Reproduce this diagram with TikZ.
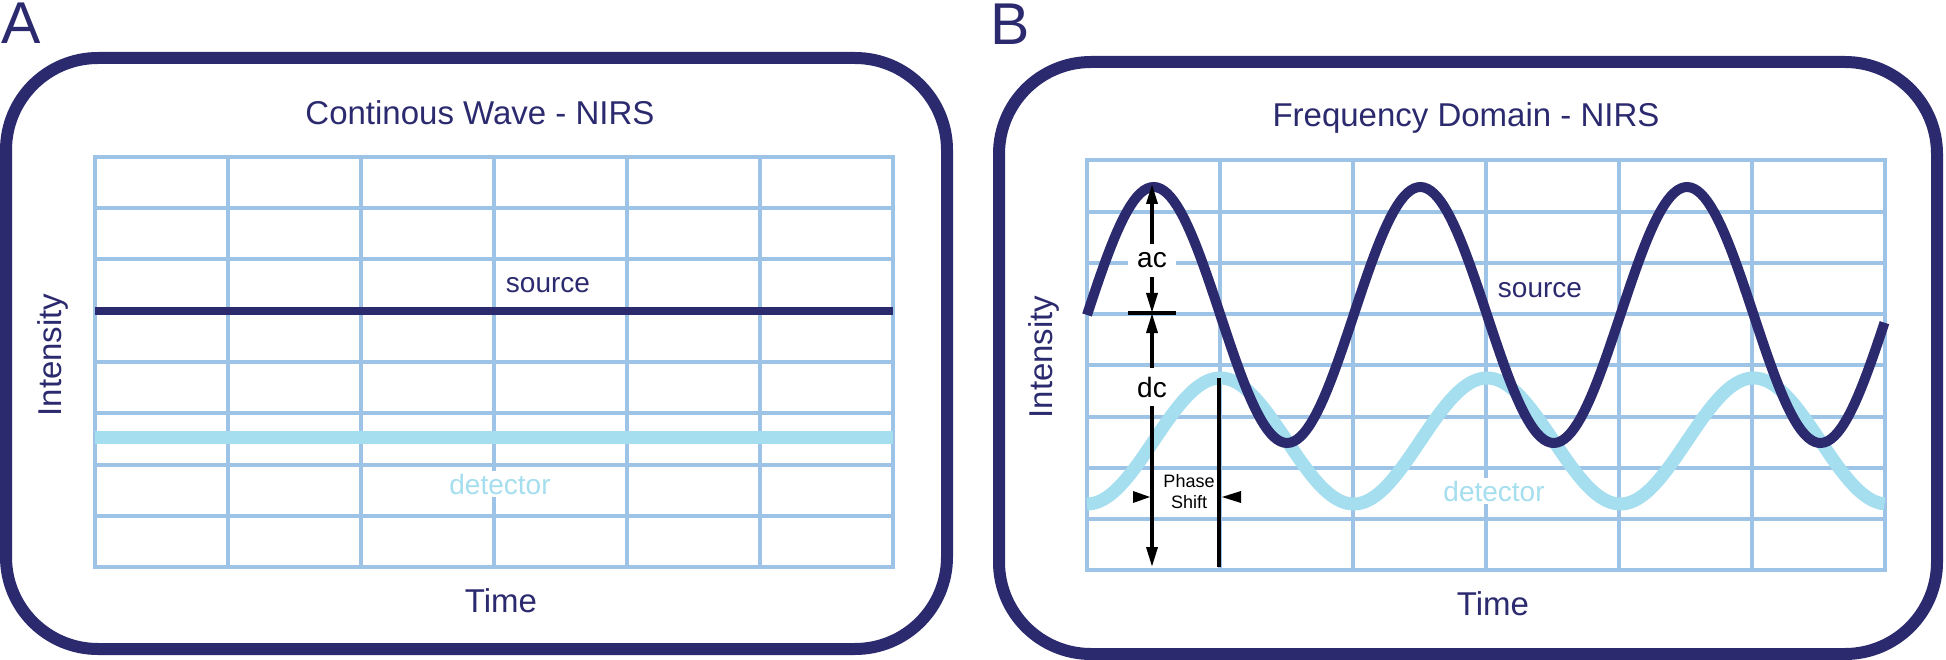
\documentclass[tikz,border=0pt]{standalone}
\usepackage{fontspec}
\setmainfont{Liberation Sans}
\usetikzlibrary{arrows.meta}
\definecolor{navy}{HTML}{2C2A6E}
\definecolor{gridblue}{HTML}{9DC3E6}
\definecolor{detcyan}{HTML}{A5DEEE}
\tikzset{
  panel/.style={draw=navy, line width=12pt, rounded corners=92pt},
  gridl/.style={draw=gridblue, line width=4pt},
  srcline/.style={draw=navy, line width=9pt},
  detline/.style={draw=detcyan, line width=13pt},
  bigtxt/.style={font=\fontsize{33}{40}\selectfont, text=navy, inner sep=0pt},
  midtxt/.style={font=\fontsize{28}{34}\selectfont, inner sep=0pt},
  paneltag/.style={font=\fontsize{59}{66}\selectfont, text=navy, inner sep=0pt, anchor=base west},
  whitebg/.style={fill=white, inner xsep=6pt, inner ysep=3pt},
  arr/.style={-{Triangle[length=20pt,width=11pt]}, line width=3.5pt, draw=black},
  blk/.style={draw=black, line width=3.5pt},
}
\begin{document}
\begin{tikzpicture}[x=1pt,y=-1pt]
\useasboundingbox (0,0) rectangle (1946,660);

% ---------------- Panel A ----------------
\node[paneltag] (tagA) at (1,44) {A};
\draw[panel] (6,58) rectangle (947,649);
\node[bigtxt, anchor=base] (titA) at (480,125) {Continous Wave - NIRS};
\foreach \i in {1,...,5} \draw[gridl] ({95+133*\i},157) -- ({95+133*\i},567);
\foreach \j in {1,...,7} \draw[gridl] (95,{157+51.25*\j}) -- (893,{157+51.25*\j});
\draw[gridl] (95,157) rectangle (893,567);
\node[midtxt, text=navy, anchor=base] (srcA) at (548,293) {source};
\node[midtxt, text=detcyan, anchor=base, whitebg] (detA) at (500,494) {detector};
\draw[srcline, line width=8pt] (95,311) -- (893,311);
\draw[detline] (95,437) -- (893,437);
\node[bigtxt, anchor=base] (timeA) at (501,612) {Time};
\node[bigtxt, anchor=base, rotate=90] (intA) at (61,355) {Intensity};

% ---------------- Panel B ----------------
\node[paneltag] (tagB) at (990,45) {B};
\draw[panel] (999,62) rectangle (1937,654);
\node[bigtxt, anchor=base] (titB) at (1466,127) {Frequency Domain - NIRS};
\foreach \i in {1,...,5} \draw[gridl] ({1087+133*\i},160.5) -- ({1087+133*\i},570);
\foreach \j in {1,...,7} \draw[gridl] (1087,{160.5+51.2*\j}) -- (1885,{160.5+51.2*\j});
\draw[gridl] (1087,160.5) rectangle (1885,570);
\node[midtxt, text=navy, anchor=base] (srcB) at (1540,298) {source};
\node[midtxt, text=detcyan, anchor=base, whitebg] (detB) at (1494,501) {detector};
\node[midtxt, text=black, anchor=base, fill=white, inner xsep=9pt, inner ysep=9pt] (ac) at (1152,268) {ac};
\node[midtxt, text=black, anchor=base, inner xsep=9pt, inner ysep=9pt] (dc) at (1152,397) {dc};
\node[font=\fontsize{18}{21}\selectfont, align=center, inner sep=0pt, anchor=north] (ps) at (1189,474) {Phase\\Shift};

\draw[detline] plot[domain=0:2.9925, samples=240] ({1087+266.67*\x}, {441+63*cos(360*\x)});
\draw[srcline, line width=10pt] plot[domain=0:2.9925, samples=240] ({1087+266.67*\x}, {315-128*sin(360*\x)});
\node[bigtxt, anchor=base] (timeB) at (1493,615) {Time};
\node[bigtxt, anchor=base, rotate=90] (intB) at (1052,357) {Intensity};

% annotations
\coordinate (pk) at (1152,184);
\coordinate (mid) at (1152,313);
\coordinate (bot) at (1152,567);
\coordinate (tickL) at (1128,313);
\coordinate (tickR) at (1176,313);
\coordinate (psTop) at (1219,378);
\coordinate (psBot) at (1219,567);
\draw[arr] (ac) -- (pk);
\draw[arr] (ac) -- (mid);
\draw[arr] (dc) -- (mid);
\draw[arr] (dc) -- (bot);
\draw[blk, line width=4pt] (tickL) -- (tickR);
\draw[blk] (psTop) -- (psBot);
\fill[black] (1133,491) -- (1150,497) -- (1133,503) -- cycle;
\fill[black] (1241,491) -- (1222,497) -- (1241,503) -- cycle;
\end{tikzpicture}
\end{document}
